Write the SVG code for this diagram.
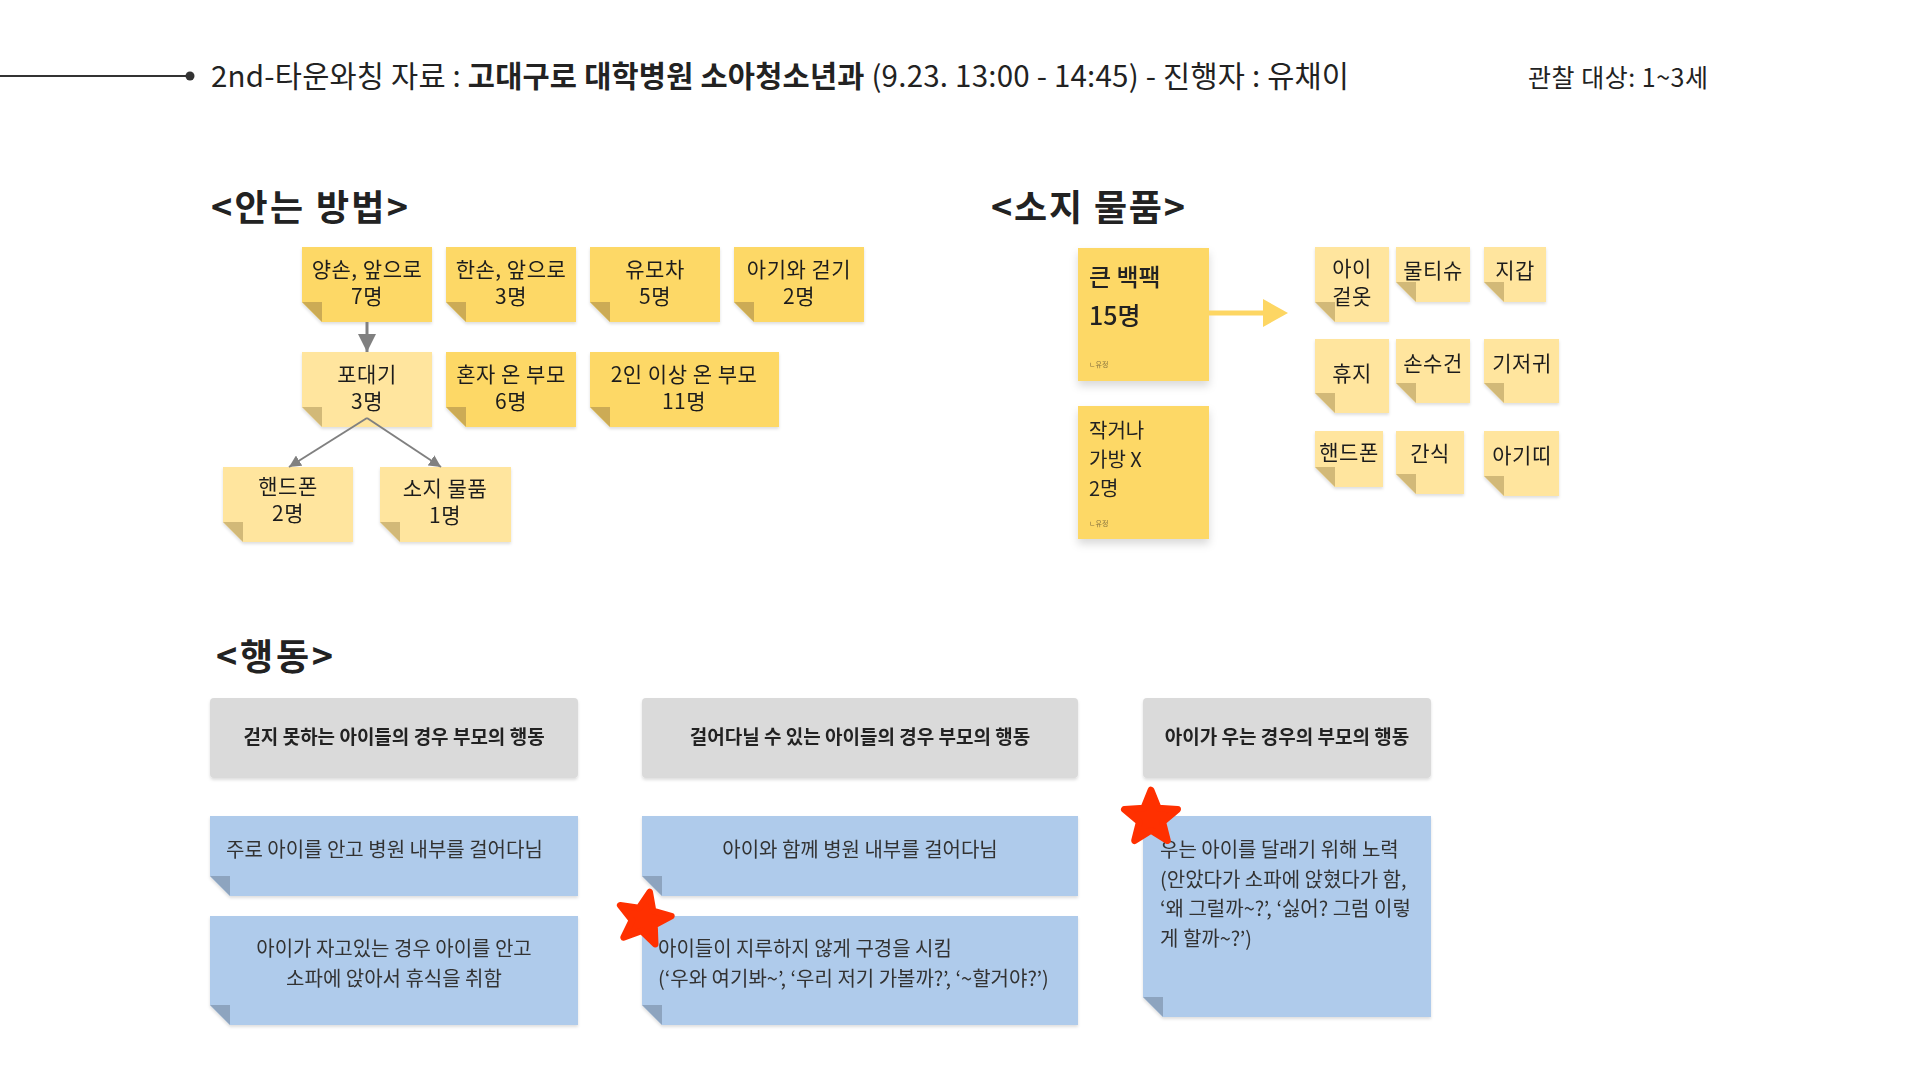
<svg xmlns="http://www.w3.org/2000/svg" width="1920" height="1080" viewBox="0 0 1920 1080">
<defs>
<style>
text{font-family:"Noto Sans CJK KR","Noto Sans",sans-serif;fill:#222;}
.st{font-size:21px;letter-spacing:0.5px;text-anchor:middle;fill:#1e1e1e;}
.sec{font-size:36px;font-weight:700;fill:#222;}
.y1{fill:#FDD866;}
.y2{fill:#FFE59E;}
.fy1{fill:#CCAB55;}
.fy2{fill:#D2B978;}
.bl{fill:#AFCBEB;}
.fb{fill:#8DA4BF;}
.hd{fill:#DADADA;}
.ht{font-size:19px;font-weight:700;text-anchor:middle;fill:#222;}
.bt{font-size:20px;fill:#333;}
.btc{font-size:20px;fill:#333;text-anchor:middle;}
.conn{stroke:#808080;fill:none;}
.star{fill:#FF3000;stroke:#FF3000;stroke-width:6;stroke-linejoin:round;}
.tiny{font-size:7px;fill:#8a7640;}
</style>
<filter id="sh" x="-10%" y="-10%" width="130%" height="140%"><feDropShadow dx="0" dy="2" stdDeviation="1.5" flood-color="#000" flood-opacity="0.13"/></filter>
<filter id="shb" x="-10%" y="-10%" width="130%" height="140%"><feDropShadow dx="0" dy="5" stdDeviation="4" flood-color="#000" flood-opacity="0.15"/></filter>
<marker id="ah" viewBox="0 0 10 10" refX="10" refY="5" markerWidth="6" markerHeight="6" orient="auto" markerUnits="strokeWidth"><path d="M0,0 L10,5 L0,10 z" fill="#808080"/></marker>
<path id="starp" d="M0,-25 L6.47,-8.9 L23.78,-7.73 L10.46,3.4 L14.69,20.23 L0,11 L-14.69,20.23 L-10.46,3.4 L-23.78,-7.73 L-6.47,-8.9 Z"/>
</defs>
<rect width="1920" height="1080" fill="#fff"/>

<g id="title">
<line x1="0" y1="76" x2="190" y2="76" stroke="#333" stroke-width="2"/>
<circle cx="190" cy="76" r="4.5" fill="#333"/>
<text x="211" y="87" font-size="29.5" fill="#111" textLength="1138" lengthAdjust="spacing">2nd-타운와칭 자료 : <tspan font-weight="700">고대구로 대학병원 소아청소년과</tspan> (9.23. 13:00 - 14:45) - 진행자 : 유채이</text>
<text x="1528" y="87" font-size="25" fill="#555" textLength="180" lengthAdjust="spacing">관찰 대상: 1~3세</text>
</g>

<g id="sections">
<text class="sec" x="211" y="221" textLength="197" lengthAdjust="spacing">&lt;안는 방법&gt;</text>
<text class="sec" x="991" y="221" textLength="194" lengthAdjust="spacing">&lt;소지 물품&gt;</text>
<text class="sec" x="216" y="670" textLength="117" lengthAdjust="spacing">&lt;행동&gt;</text>
</g>

<!-- 안는 방법 -->
<g id="n-yangson" filter="url(#sh)">
<path class="y1" d="M302,247 H432 V322 H322 L302,302 Z"/><path class="fy1" d="M302,302 H322 V322 Z"/>
<text class="st" x="367" y="277">양손, 앞으로</text><text class="st" x="367" y="304">7명</text>
</g>
<g id="n-hanson" filter="url(#sh)">
<path class="y1" d="M446,247 H576 V322 H466 L446,302 Z"/><path class="fy1" d="M446,302 H466 V322 Z"/>
<text class="st" x="511" y="277">한손, 앞으로</text><text class="st" x="511" y="304">3명</text>
</g>
<g id="n-stroller" filter="url(#sh)">
<path class="y1" d="M590,247 H720 V322 H610 L590,302 Z"/><path class="fy1" d="M590,302 H610 V322 Z"/>
<text class="st" x="655" y="277">유모차</text><text class="st" x="655" y="304">5명</text>
</g>
<g id="n-walk" filter="url(#sh)">
<path class="y1" d="M734,247 H864 V322 H754 L734,302 Z"/><path class="fy1" d="M734,302 H754 V322 Z"/>
<text class="st" x="799" y="277">아기와 걷기</text><text class="st" x="799" y="304">2명</text>
</g>
<g id="n-podaegi" filter="url(#sh)">
<path class="y2" d="M302,352 H432 V427 H322 L302,407 Z"/><path class="fy2" d="M302,407 H322 V427 Z"/>
<text class="st" x="367" y="382">포대기</text><text class="st" x="367" y="409">3명</text>
</g>
<g id="n-alone" filter="url(#sh)">
<path class="y1" d="M446,352 H576 V427 H466 L446,407 Z"/><path class="fy1" d="M446,407 H466 V427 Z"/>
<text class="st" x="511" y="382">혼자 온 부모</text><text class="st" x="511" y="409">6명</text>
</g>
<g id="n-two" filter="url(#sh)">
<path class="y1" d="M590,352 H779 V427 H610 L590,407 Z"/><path class="fy1" d="M590,407 H610 V427 Z"/>
<text class="st" x="684" y="382">2인 이상 온 부모</text><text class="st" x="684" y="409">11명</text>
</g>
<g id="n-phone1" filter="url(#sh)">
<path class="y2" d="M223,467 H353 V542 H243 L223,522 Z"/><path class="fy2" d="M223,522 H243 V542 Z"/>
<text class="st" x="288" y="494">핸드폰</text><text class="st" x="288" y="521">2명</text>
</g>
<g id="n-items1" filter="url(#sh)">
<path class="y2" d="M380,467 H511 V542 H400 L380,522 Z"/><path class="fy2" d="M380,522 H400 V542 Z"/>
<text class="st" x="445" y="496">소지 물품</text><text class="st" x="445" y="523">1명</text>
</g>

<!-- 소지 물품 -->
<g id="n-backpack" filter="url(#shb)">
<rect class="y1" x="1078" y="248" width="131" height="133"/>
<text x="1089" y="286" font-size="24" font-weight="500" fill="#2a2a2a">큰 백팩</text>
<text x="1089" y="325" font-size="25" font-weight="500" fill="#2a2a2a">15명</text>
<text class="tiny" x="1089" y="367">ㄴ유정</text>
</g>
<g id="n-nobag" filter="url(#shb)">
<rect class="y1" x="1078" y="406" width="131" height="133"/>
<text x="1089" y="438" font-size="20" fill="#2a2a2a">작거나</text>
<text x="1089" y="467" font-size="20" fill="#2a2a2a">가방 X</text>
<text x="1089" y="496" font-size="20" fill="#2a2a2a">2명</text>
<text class="tiny" x="1089" y="526">ㄴ유정</text>
</g>
<g id="n-clothes" filter="url(#sh)">
<path class="y2" d="M1315,247 H1389 V322 H1335 L1315,302 Z"/><path class="fy2" d="M1315,302 H1335 V322 Z"/>
<text class="st" x="1352" y="276">아이</text><text class="st" x="1352" y="304">겉옷</text>
</g>
<g id="n-wipes" filter="url(#sh)">
<path class="y2" d="M1396,247 H1470 V302 H1416 L1396,282 Z"/><path class="fy2" d="M1396,282 H1416 V302 Z"/>
<text class="st" x="1433" y="278">물티슈</text>
</g>
<g id="n-wallet" filter="url(#sh)">
<path class="y2" d="M1484,247 H1546 V302 H1504 L1484,282 Z"/><path class="fy2" d="M1484,282 H1504 V302 Z"/>
<text class="st" x="1515" y="278">지갑</text>
</g>
<g id="n-tissue" filter="url(#sh)">
<path class="y2" d="M1315,339 H1389 V413 H1335 L1315,393 Z"/><path class="fy2" d="M1315,393 H1335 V413 Z"/>
<text class="st" x="1352" y="381">휴지</text>
</g>
<g id="n-towel" filter="url(#sh)">
<path class="y2" d="M1396,339 H1470 V403 H1416 L1396,383 Z"/><path class="fy2" d="M1396,383 H1416 V403 Z"/>
<text class="st" x="1433" y="371">손수건</text>
</g>
<g id="n-diaper" filter="url(#sh)">
<path class="y2" d="M1484,339 H1559 V403 H1504 L1484,383 Z"/><path class="fy2" d="M1484,383 H1504 V403 Z"/>
<text class="st" x="1522" y="371">기저귀</text>
</g>
<g id="n-phone2" filter="url(#sh)">
<path class="y2" d="M1315,431 H1383 V487 H1335 L1315,467 Z"/><path class="fy2" d="M1315,467 H1335 V487 Z"/>
<text class="st" x="1349" y="460">핸드폰</text>
</g>
<g id="n-snack" filter="url(#sh)">
<path class="y2" d="M1396,431 H1464 V494 H1416 L1396,474 Z"/><path class="fy2" d="M1396,474 H1416 V494 Z"/>
<text class="st" x="1430" y="461">간식</text>
</g>
<g id="n-carrier" filter="url(#sh)">
<path class="y2" d="M1484,431 H1559 V496 H1504 L1484,476 Z"/><path class="fy2" d="M1484,476 H1504 V496 Z"/>
<text class="st" x="1522" y="463">아기띠</text>
</g>

<!-- 행동 -->
<g id="h-1" filter="url(#sh)">
<rect class="hd" x="210" y="698" width="368" height="80" rx="4"/>
<text class="ht" x="394" y="744">걷지 못하는 아이들의 경우 부모의 행동</text>
</g>
<g id="h-2" filter="url(#sh)">
<rect class="hd" x="642" y="698" width="436" height="80" rx="4"/>
<text class="ht" x="860" y="744">걸어다닐 수 있는 아이들의 경우 부모의 행동</text>
</g>
<g id="h-3" filter="url(#sh)">
<rect class="hd" x="1143" y="698" width="288" height="80" rx="4"/>
<text class="ht" x="1287" y="744">아이가 우는 경우의 부모의 행동</text>
</g>
<g id="b-1" filter="url(#sh)">
<path class="bl" d="M210,816 H578 V896 H230 L210,876 Z"/><path class="fb" d="M210,876 H230 V896 Z"/>
<text class="bt" x="226" y="857">주로 아이를 안고 병원 내부를 걸어다님</text>
</g>
<g id="b-2" filter="url(#sh)">
<path class="bl" d="M642,816 H1078 V896 H662 L642,876 Z"/><path class="fb" d="M642,876 H662 V896 Z"/>
<text class="btc" x="860" y="857">아이와 함께 병원 내부를 걸어다님</text>
</g>
<g id="b-3" filter="url(#sh)">
<path class="bl" d="M210,916 H578 V1025 H230 L210,1005 Z"/><path class="fb" d="M210,1005 H230 V1025 Z"/>
<text class="btc" x="394" y="956">아이가 자고있는 경우 아이를 안고</text>
<text class="btc" x="394" y="986">소파에 앉아서 휴식을 취함</text>
</g>
<g id="b-4" filter="url(#sh)">
<path class="bl" d="M642,916 H1078 V1025 H662 L642,1005 Z"/><path class="fb" d="M642,1005 H662 V1025 Z"/>
<text class="bt" x="658" y="956">아이들이 지루하지 않게 구경을 시킴</text>
<text class="bt" x="658" y="986">(‘우와 여기봐~’, ‘우리 저기 가볼까?’, ‘~할거야?’)</text>
</g>
<g id="b-5" filter="url(#sh)">
<path class="bl" d="M1143,816 H1431 V1017 H1163 L1143,997 Z"/><path class="fb" d="M1143,997 H1163 V1017 Z"/>
<text class="bt" x="1160" y="857">우는 아이를 달래기 위해 노력</text>
<text class="bt" x="1160" y="887">(안았다가 소파에 앉혔다가 함,</text>
<text class="bt" x="1160" y="916">‘왜 그럴까~?’, ‘싫어? 그럼 이렇</text>
<text class="bt" x="1160" y="946">게 할까~?’)</text>
</g>

<g id="stars">
<use href="#starp" class="star" transform="translate(1151,818) scale(1.12)"/>
<use href="#starp" class="star" transform="translate(644,919) rotate(12) scale(1.1)"/>
</g>

<g id="connectors">
<line class="conn" x1="367" y1="322" x2="367" y2="352" stroke-width="3" marker-end="url(#ah)"/>
<line class="conn" x1="367" y1="418" x2="289" y2="467" stroke-width="2" marker-end="url(#ah)"/>
<line class="conn" x1="367" y1="418" x2="441" y2="467" stroke-width="2" marker-end="url(#ah)"/>
<rect x="1209" y="310.5" width="56" height="5" fill="#FDD663"/>
<polygon points="1263,299 1288,313 1263,327" fill="#FDD663"/>
</g>
</svg>
